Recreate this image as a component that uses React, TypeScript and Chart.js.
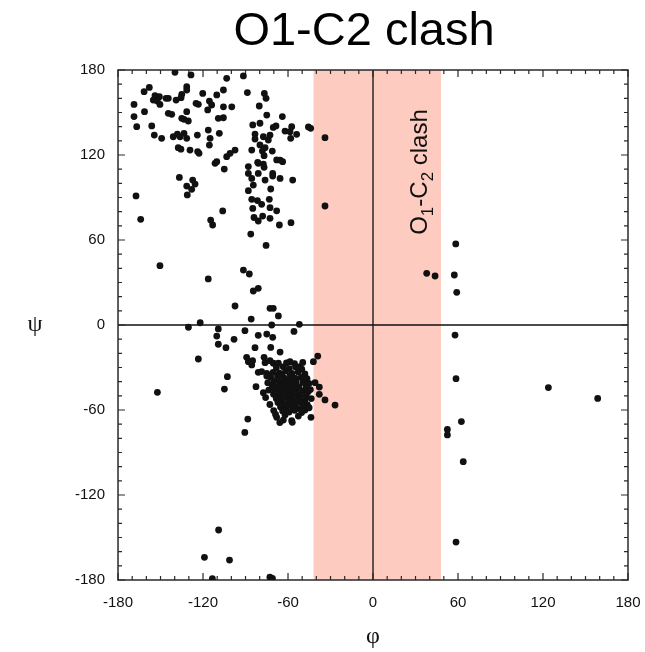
import React, { useEffect, useRef } from "react";
import { Chart, registerables } from "chart.js";

Chart.register(...registerables);

// ---- data: [phi, psi] pairs ----
const BETA_REGION: number[][] = [
  [-139.8, 178.4], [-128.5, 176.5], [-103.3, 174.1], [-91.5, 175.8],
  [-157.9, 167.7], [-161.6, 164.7], [-131.5, 168.2], [-131.5, 165.9], [-135.0, 162.8], [-135.5, 160.5],
  [-120.2, 163.5], [-105.6, 165.9], [-110.3, 162.4], [-88.7, 164.1], [-76.7, 163.5], [-75.5, 160.0],
  [-153.9, 161.9], [-150.8, 161.2], [-155.1, 158.8], [-152.3, 158.1], [-150.4, 155.7], [-146.1, 160.0],
  [-144.5, 160.0], [-139.0, 158.8], [-168.7, 155.7], [-161.3, 150.6], [-168.7, 147.1], [-166.8, 140.0],
  [-156.2, 140.5], [-154.4, 134.1], [-149.2, 131.8], [-144.5, 149.4], [-142.1, 148.7], [-131.5, 150.6],
  [-135.0, 145.9], [-133.4, 145.2], [-130.4, 144.0], [-124.9, 156.5], [-123.3, 155.8], [-115.5, 158.1],
  [-113.9, 155.3], [-116.7, 151.8], [-105.6, 154.0], [-99.7, 154.0], [-109.2, 145.9], [-105.6, 146.3],
  [-141.0, 132.9], [-138.1, 134.8], [-136.2, 132.9], [-133.4, 135.3], [-131.5, 131.8], [-124.0, 134.1],
  [-116.3, 137.6], [-115.0, 131.8], [-108.5, 135.3],
  [-137.5, 125.2], [-135.6, 124.1], [-129.2, 123.5], [-123.8, 122.4], [-122.8, 121.2], [-115.5, 127.0],
  [-110.3, 115.3], [-111.5, 114.1], [-105.0, 110.1], [-103.3, 118.8], [-100.9, 121.2], [-97.4, 123.5],
  [-136.7, 104.2], [-127.3, 102.3], [-125.6, 99.5], [-131.5, 98.1], [-128.0, 95.8], [-131.1, 91.8],
  [-167.3, 91.1], [-164.0, 74.6], [-106.1, 80.5], [-114.6, 74.1], [-113.2, 70.6],
];

const PPII_REGION: number[][] = [
  [-80.3, 154.6], [-75.0, 148.2], [-64.0, 147.1], [-84.9, 141.2], [-79.8, 142.4], [-70.4, 139.5],
  [-68.5, 140.5], [-62.1, 136.9], [-57.4, 140.0], [-58.6, 136.5], [-58.1, 131.8], [-53.9, 134.6],
  [-45.6, 139.8], [-44.0, 138.8], [-33.9, 132.2], [-83.3, 134.8], [-83.3, 131.3], [-77.4, 132.9],
  [-73.9, 130.6], [-72.7, 134.1], [-79.8, 127.1], [-76.2, 125.2], [-78.1, 122.8], [-76.9, 119.5],
  [-71.1, 122.8], [-85.6, 123.5], [-81.4, 114.8], [-77.4, 113.6], [-68.0, 116.5], [-63.8, 115.3],
  [-88.0, 111.8], [-81.0, 114.1], [-76.9, 111.3], [-65.6, 116.4], [-88.0, 107.0], [-85.6, 103.5],
  [-81.0, 107.0], [-70.8, 107.0], [-70.8, 105.1], [-76.2, 102.3], [-65.6, 103.5], [-56.7, 102.3],
  [-84.5, 98.8], [-88.0, 94.8], [-72.2, 96.0], [-85.6, 88.7], [-81.6, 87.8], [-78.6, 85.2],
  [-73.2, 88.7], [-72.7, 82.8], [-68.0, 80.6], [-84.9, 82.3], [-84.0, 75.9], [-81.0, 73.4],
  [-77.9, 76.9], [-72.7, 75.3], [-66.1, 70.6], [-57.9, 72.2], [-86.3, 64.2], [-75.5, 56.2], [-33.9, 84.0],
];

const BRIDGE_REGION: number[][] = [
  [-150.4, 41.9], [-116.3, 32.5], [-91.5, 38.8], [-87.3, 36.0], [-84.5, 24.0], [-81.0, 25.9],
  [-97.4, 13.4], [-72.7, 11.8], [-70.4, 11.8], [-66.8, 6.4], [-86.0, 4.2], [-52.0, 0.5], [-71.5, 0.0],
  [-130.3, -1.6], [-122.0, 1.6], [-109.2, -2.8], [-110.3, -7.8], [-109.2, -13.6], [-103.8, -16.0],
  [-98.1, -10.1], [-90.4, -4.0], [-81.0, -7.3], [-75.0, -6.4], [-70.8, -8.7], [-55.8, -4.5],
  [-83.3, -16.0], [-72.2, -15.8], [-65.6, -19.1], [-123.3, -24.0], [-89.2, -22.8], [-88.0, -25.9],
  [-85.0, -25.2], [-85.6, -28.2], [-76.9, -22.8], [-76.2, -26.6], [-72.7, -25.2], [-70.4, -27.0],
  [-66.8, -27.0], [-58.6, -25.9], [-51.5, -29.4], [-42.1, -25.9], [-39.0, -21.9],
  [-81.0, -33.4], [-78.6, -32.9], [-75.0, -34.1], [-75.0, -36.0], [-102.8, -36.5], [-104.9, -45.2],
  [-152.2, -47.5], [-82.6, -43.5], [-77.4, -47.8], [-40.9, -40.7], [-37.9, -43.8], [-37.9, -48.9],
  [-33.9, -52.9], [-26.8, -56.5], [-88.4, -66.4], [-90.5, -75.8], [-68.0, -65.2], [-63.3, -67.1],
  [-62.1, -63.5], [-57.4, -67.5], [-43.8, -65.2], [-48.0, -60.0], [-65.8, -68.9], [-57.0, -68.7],
  [-109.0, -144.7], [-119.0, -164.0], [-101.3, -165.9], [-113.4, -179.0], [-72.8, -178.0], [-71.0, -178.8],
];

const ALPHA_CORE: number[][] = [
  [-68.2, -30.1], [-63.4, -29.5], [-59.1, -30.8], [-54.6, -29.7], [-50.3, -31.2],
  [-70.5, -33.4], [-66.1, -33.9], [-61.7, -32.6], [-57.2, -34.1], [-52.8, -33.2], [-48.1, -34.6],
  [-72.3, -36.8], [-67.4, -36.2], [-63.2, -37.1], [-58.8, -36.4], [-55.1, -37.5], [-50.7, -36.9], [-46.6, -37.8],
  [-69.8, -39.6], [-65.7, -40.2], [-61.9, -39.1], [-58.3, -40.5], [-54.2, -39.8], [-49.4, -40.6], [-45.2, -41.3],
  [-71.1, -42.7], [-67.2, -43.4], [-63.5, -42.2], [-59.8, -43.8], [-56.1, -42.9], [-52.4, -43.6], [-47.3, -44.1],
  [-69.4, -45.8], [-65.2, -46.3], [-61.3, -45.4], [-57.6, -46.9], [-53.7, -45.7], [-49.2, -46.5], [-45.8, -47.2],
  [-70.2, -48.9], [-66.4, -49.6], [-62.1, -48.3], [-58.4, -49.9], [-54.9, -48.8], [-51.3, -49.4], [-47.1, -50.3],
  [-68.3, -51.8], [-64.1, -52.4], [-60.2, -51.3], [-56.4, -52.9], [-52.3, -51.6], [-48.2, -53.1],
  [-67.1, -54.7], [-63.2, -55.4], [-59.3, -54.2], [-55.2, -55.8], [-51.1, -54.6], [-46.4, -56.2],
  [-65.3, -57.9], [-61.4, -58.6], [-57.2, -57.4], [-53.1, -58.9], [-49.3, -57.7],
  [-63.8, -60.7], [-59.2, -61.4], [-55.3, -60.2], [-50.4, -61.8],
  [-64.6, -35.1], [-60.4, -41.7], [-56.8, -38.3], [-62.7, -50.8], [-58.9, -47.6], [-55.6, -44.2],
  [-60.7, -56.3], [-66.3, -44.9], [-53.4, -53.8], [-57.9, -35.6],
  [-74.3, -40.8], [-73.6, -45.9], [-75.8, -51.2], [-72.8, -56.1], [-70.1, -60.4], [-44.2, -45.6],
  [-43.6, -51.9], [-45.1, -58.4], [-61.1, -26.8], [-55.4, -27.3], [-49.6, -26.4], [-68.8, -63.1], [-52.7, -64.3],
];

const POSITIVE_PHI: number[][] = [
  [58.4, 57.2], [37.9, 36.5], [43.8, 34.6], [57.4, 35.3], [59.1, 23.1], [57.9, -7.1], [58.6, -37.9],
  [123.8, -44.2], [158.6, -51.8], [62.4, -68.2], [52.5, -73.7], [52.5, -77.6], [63.7, -96.5], [58.6, -153.2],
];

const AXIS_MIN = -180;
const AXIS_MAX = 180;
const MAJOR_STEP = 60;
const MINOR_STEP = 10;
const CLASH_BAND = [-42, 48];
const CLASH_LABEL_POS = [38.3, 108]; // [phi of baseline, psi of text centre]
const TITLE = "O1-C2 clash";
const X_TITLE = "φ";
const Y_TITLE = "ψ";

const BAND_COLOR = "#FDCBC0";
const INK = "#111111";

const decorPlugin = {
  id: "decor",
  beforeDatasetsDraw(chart: any) {
    const { ctx, chartArea, scales } = chart;
    const { left, right, top, bottom } = chartArea;
    const xs = scales.x, ys = scales.y;
    ctx.save();
    // clash band
    const bx0 = xs.getPixelForValue(CLASH_BAND[0]);
    const bx1 = xs.getPixelForValue(CLASH_BAND[1]);
    ctx.fillStyle = BAND_COLOR;
    ctx.fillRect(bx0, top, bx1 - bx0, bottom - top);

    // rotated band label with subscripts
    const lx = xs.getPixelForValue(CLASH_LABEL_POS[0]);
    const ly = ys.getPixelForValue(CLASH_LABEL_POS[1]);
    const big = "24px 'Liberation Sans', Arial, sans-serif";
    const small = "17px 'Liberation Sans', Arial, sans-serif";
    const segs = [
      { t: "O", s: false }, { t: "1", s: true }, { t: "-C", s: false }, { t: "2", s: true }, { t: " clash", s: false },
    ];
    let total = 0;
    for (const sg of segs) { ctx.font = sg.s ? small : big; total += ctx.measureText(sg.t).width; }
    ctx.translate(lx, ly);
    ctx.rotate(-Math.PI / 2);
    ctx.fillStyle = INK;
    ctx.textBaseline = "alphabetic";
    ctx.textAlign = "left";
    let cx = -total / 2;
    for (const sg of segs) {
      ctx.font = sg.s ? small : big;
      ctx.fillText(sg.t, cx, sg.s ? 6 : 0);
      cx += ctx.measureText(sg.t).width;
    }
    ctx.restore();

    ctx.save();
    // zero lines
    ctx.strokeStyle = INK;
    ctx.lineWidth = 1.3;
    const zx = xs.getPixelForValue(0);
    const zy = ys.getPixelForValue(0);
    ctx.beginPath();
    ctx.moveTo(zx, top); ctx.lineTo(zx, bottom);
    ctx.moveTo(left, zy); ctx.lineTo(right, zy);
    ctx.stroke();

    // frame
    ctx.strokeStyle = "#2a2a2a";
    ctx.lineWidth = 1.5;
    ctx.strokeRect(left, top, right - left, bottom - top);

    // inward ticks on all four sides
    ctx.lineWidth = 1.2;
    ctx.beginPath();
    for (let v = AXIS_MIN; v <= AXIS_MAX; v += MINOR_STEP) {
      const len = v % MAJOR_STEP === 0 ? 7 : 4;
      const px = xs.getPixelForValue(v);
      const py = ys.getPixelForValue(v);
      ctx.moveTo(px, bottom); ctx.lineTo(px, bottom - len);
      ctx.moveTo(px, top); ctx.lineTo(px, top + len);
      ctx.moveTo(left, py); ctx.lineTo(left + len, py);
      ctx.moveTo(right, py); ctx.lineTo(right - len, py);
    }
    ctx.stroke();
    ctx.restore();
  },
  afterDraw(chart: any) {
    const { ctx, chartArea } = chart;
    ctx.save();
    // y-axis symbol, upright
    ctx.font = "24px 'Liberation Serif', 'DejaVu Serif', serif";
    ctx.fillStyle = INK;
    ctx.textAlign = "center";
    ctx.textBaseline = "middle";
    ctx.fillText(Y_TITLE, chartArea.left - 83, (chartArea.top + chartArea.bottom) / 2);
    // chart title
    ctx.font = "47px 'Liberation Sans', Arial, sans-serif";
    ctx.fillStyle = "#000";
    ctx.fillText(TITLE, (chartArea.left + chartArea.right) / 2 - 9, chartArea.top - 38);
    ctx.restore();
  },
};

export default function App() {
  const ref = useRef<HTMLCanvasElement | null>(null);
  useEffect(() => {
    if (!ref.current) return;
    const all = [...BETA_REGION, ...PPII_REGION, ...BRIDGE_REGION, ...ALPHA_CORE, ...POSITIVE_PHI];
    const tickFont = { family: "'Liberation Sans', Arial, sans-serif", size: 15 };
    const chart = new Chart(ref.current, {
      type: "scatter",
      data: {
        datasets: [
          {
            data: all.map(([x, y]) => ({ x, y })),
            backgroundColor: INK,
            borderWidth: 0,
            pointRadius: 3.4,
            pointHoverRadius: 3.4,
          },
        ],
      },
      options: {
        animation: false,
        responsive: false,
        devicePixelRatio: 1,
        events: [],
        layout: { padding: { left: 75, right: 17, top: 70, bottom: 0 } },
        plugins: {
          legend: { display: false },
          tooltip: { enabled: false },
          title: { display: false },
        },
        scales: {
          x: {
            type: "linear",
            min: AXIS_MIN,
            max: AXIS_MAX,
            grid: { display: false, drawTicks: true, tickLength: 14 },
            border: { display: false },
            ticks: { stepSize: MAJOR_STEP, color: INK, font: tickFont, padding: 0 },
            title: {
              display: true,
              text: X_TITLE,
              color: INK,
              font: { family: "'Liberation Serif', 'DejaVu Serif', serif", size: 24 },
              padding: { top: 10.5, bottom: 0.7 },
            },
          },
          y: {
            type: "linear",
            min: AXIS_MIN,
            max: AXIS_MAX,
            grid: { display: false, drawTicks: true, tickLength: 13 },
            border: { display: false },
            ticks: { stepSize: MAJOR_STEP, color: INK, font: tickFont, padding: 0 },
          },
        },
      },
      plugins: [decorPlugin],
    } as any);
    return () => chart.destroy();
  }, []);
  return (
    <div style={{ position: "fixed", left: 0, top: 0, width: 645, height: 652, background: "#fff" }}>
      <canvas ref={ref} width={645} height={652} style={{ display: "block" }} />
    </div>
  );
}
